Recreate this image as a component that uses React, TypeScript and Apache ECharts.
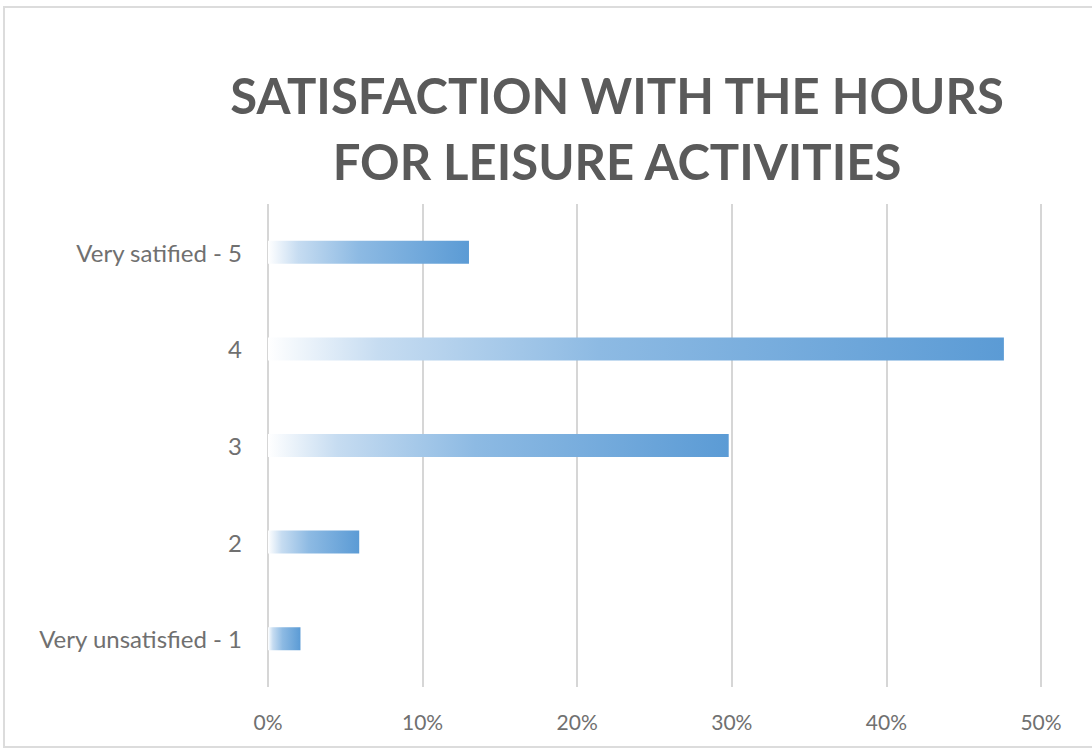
import React, { useEffect, useRef } from "react";
import * as echarts from "echarts";

const categories = ["Very unsatisfied - 1", "2", "3", "4", "Very satified - 5"];
const values = [2.1, 5.9, 29.8, 47.6, 13.0];
const xTicks = [0, 10, 20, 30, 40, 50];
const titleLines = ["SATISFACTION WITH THE HOURS", "FOR LEISURE ACTIVITIES"];

export default function App() {
  const ref = useRef<HTMLDivElement>(null);
  useEffect(() => {
    if (!ref.current) return;
    const chart = echarts.init(ref.current, null, { renderer: "svg" });
    chart.setOption({
      animation: false,
      backgroundColor: "#ffffff",
      title: {
        text: titleLines.join("\n"),
        left: 612,
        top: 57,
        textAlign: "center",
        textStyle: {
          fontFamily: "Lato",
          fontWeight: "bold",
          fontSize: 49,
          lineHeight: 66,
          color: "#5a5a5a",
        },
      },
      graphic: [
        {
          type: "rect",
          shape: { x: 4, y: 7, width: 1100, height: 740 },
          style: { fill: "none", stroke: "#dcdcdc", lineWidth: 2 },
          silent: true,
          z: -1,
        },
      ],
      grid: { left: 268, right: 51, top: 204, bottom: 66, containLabel: false },
      xAxis: {
        type: "value",
        min: xTicks[0],
        max: xTicks[xTicks.length - 1],
        interval: 10,
        axisLine: { show: false },
        axisTick: { show: false },
        splitLine: { show: true, lineStyle: { color: "#d6d6d6", width: 2 } },
        axisLabel: {
          formatter: "{value}%",
          fontFamily: "Lato",
          fontSize: 21,
          color: "#707070",
          margin: 24,
        },
      },
      yAxis: {
        type: "category",
        data: categories,
        axisLine: { show: false },
        axisTick: { show: false },
        splitLine: { show: false },
        axisLabel: {
          fontFamily: "Lato",
          fontSize: 24,
          color: "#707070",
          margin: 26,
        },
      },
      series: [
        {
          type: "bar",
          data: values,
          barWidth: 23,
          itemStyle: {
            color: new echarts.graphic.LinearGradient(0, 0, 1, 0, [
              { offset: 0, color: "#ffffff" },
              { offset: 0.15, color: "#c6dcf1" },
              { offset: 0.45, color: "#8dbae3" },
              { offset: 1, color: "#5b9bd5" },
            ]),
          },
        },
      ],
    });
    return () => chart.dispose();
  }, []);
  return (
    <div
      ref={ref}
      style={{ position: "fixed", left: 0, top: 0, width: 1092, height: 753 }}
    />
  );
}
